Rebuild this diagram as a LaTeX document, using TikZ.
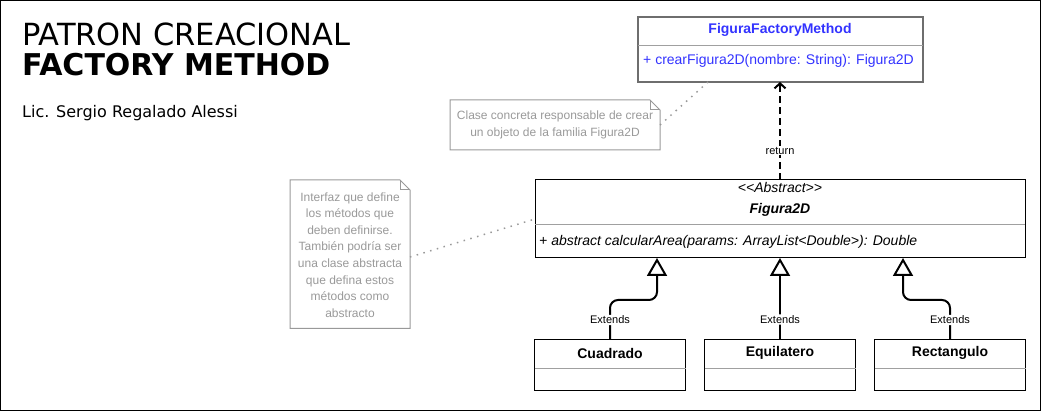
\documentclass[tikz,border=0pt]{standalone}
\usepackage{fontspec}
\setmainfont{Liberation Sans}
\newfontfamily\titlefont{DejaVu Sans}
\usetikzlibrary{arrows.meta}

\definecolor{ffmblue}{RGB}{51,51,255}
\definecolor{notegray}{RGB}{153,153,153}
\definecolor{boxgray}{RGB}{110,110,110}
\definecolor{divgray}{RGB}{160,160,160}

\tikzset{
  classbox/.style={draw=black,line width=1pt,fill=white,inner sep=0pt,outer sep=0pt},
  divider/.style={divgray,line width=1pt},
  classname/.style={inner sep=0pt,font=\fontsize{14}{16}\selectfont\bfseries},
  member/.style={anchor=west,inner sep=0pt,font=\fontsize{14}{16}\selectfont},
  notebox/.style={inner sep=0pt,outer sep=0pt,text=notegray,align=center,font=\fontsize{12}{16.6}\selectfont},
  noteedge/.style={notegray,line width=1pt},
  noteline/.style={notegray,line width=1.5pt,dash pattern=on 1.5pt off 5.5pt},
  extends/.style={line width=2pt,rounded corners=8pt,-{Triangle[open,length=18pt,width=20pt]}},
  ret/.style={line width=2pt,dash pattern=on 7pt off 4pt,-{Straight Barb[length=5pt,width=11pt]}},
  lbl/.style={fill=white,inner sep=1pt,font=\fontsize{11}{13}\selectfont},
  titletext/.style={anchor=base west,inner sep=0pt}
}

\begin{document}
\begin{tikzpicture}[x=1pt,y=-1pt]
\useasboundingbox (0,0) rectangle (1041,411);
\draw[line width=1pt] (0.5,0.5) rectangle (1040.5,410.5);

\node[titletext,font=\titlefont\fontsize{30.5}{36}\selectfont] (title) at (22,46) {PATRON CREACIONAL};
\node[titletext,font=\titlefont\fontsize{30}{36}\selectfont\bfseries] (subtitle) at (22,76) {FACTORY METHOD};
\node[titletext,font=\titlefont\fontsize{16}{19}\selectfont] (author) at (22,118) {Lic. Sergio Regalado Alessi};

\node[notebox,minimum width=210pt,minimum height=50pt] (noteA) at (555,125) {Clase concreta responsable de crear\\un objeto de la familia Figura2D};
\draw[noteedge] (noteA.north west) -- ([xshift=-10pt]noteA.north east) -- ([yshift=-10pt]noteA.north east) -- (noteA.south east) -- (noteA.south west) -- cycle;
\draw[noteedge] ([xshift=-10pt]noteA.north east) -- ([xshift=-10pt,yshift=-10pt]noteA.north east) -- ([yshift=-10pt]noteA.north east);

\node[notebox,minimum width=120pt,minimum height=147pt] (noteB) at (350,255) {Interfaz que define\\los métodos que\\deben definirse.\\También podría ser\\una clase abstracta\\que defina estos\\métodos como\\abstracto};
\draw[noteedge] ([yshift=1.5pt]noteB.north west) -- ([xshift=-10pt,yshift=1.5pt]noteB.north east) -- ([yshift=-8.5pt]noteB.north east) -- (noteB.south east) -- (noteB.south west) -- cycle;
\draw[noteedge] ([xshift=-10pt,yshift=1.5pt]noteB.north east) -- ([xshift=-10pt,yshift=-8.5pt]noteB.north east) -- ([yshift=-8.5pt]noteB.north east);

\node[classbox,draw=boxgray,line width=2pt,minimum width=285pt,minimum height=65pt] (ffm) at (780,49.5) {};
\draw[divider] ([yshift=3.5pt]ffm.west) -- ([yshift=3.5pt]ffm.east);
\node[classname,text=ffmblue] (ffmname) at (780,30) {FiguraFactoryMethod};
\node[member,text=ffmblue] (ffmop) at (643,61) {+ crearFigura2D(nombre: String): Figura2D};

\node[classbox,minimum width=490pt,minimum height=78pt] (fig) at (780,219) {};
\draw[divider] ([yshift=-6pt]fig.west) -- ([yshift=-6pt]fig.east);
\node[classname,font=\fontsize{14}{16}\selectfont\itshape] (figstereo) at (780,187) {<{}<Abstract>{}>};
\node[classname,font=\fontsize{14}{16}\selectfont\bfseries\itshape] (figname) at (780,210) {Figura2D};
\node[member,font=\fontsize{14}{16}\selectfont\itshape] (figop) at (539,242) {+ abstract calcularArea(params: ArrayList<Double>): Double};

\node[classbox,minimum width=151pt,minimum height=50pt] (cuad) at (610,365) {};
\draw[divider] ([yshift=-3pt]cuad.west) -- ([yshift=-3pt]cuad.east);
\node[classname] (cuadname) at (610,353) {Cuadrado};

\node[classbox,minimum width=151pt,minimum height=50pt] (equi) at (780,365) {};
\draw[divider] ([yshift=-3pt]equi.west) -- ([yshift=-3pt]equi.east);
\node[classname] (equiname) at (780,353) {Equilatero};

\node[classbox,minimum width=151pt,minimum height=50pt] (rect) at (950,365) {};
\draw[divider] ([yshift=-3pt]rect.west) -- ([yshift=-3pt]rect.east);
\node[classname] (rectname) at (950,353) {Rectangulo};

\draw[noteline] (noteA.east) -- ([xshift=-72pt]ffm.south);
\draw[noteline] ([yshift=-2pt]noteB.east) -- (fig.west);

\draw[ret] (fig.north) -- node[lbl,pos=0.3] {return} (ffm.south);

\draw[extends] (cuad.north) |- node[lbl,pos=0.25] {Extends} ([xshift=-123pt,yshift=-42pt]fig.south) -- ([xshift=-123pt]fig.south);
\draw[extends] (equi.north) -- node[lbl,pos=0.25] {Extends} (fig.south);
\draw[extends] (rect.north) |- node[lbl,pos=0.25] {Extends} ([xshift=123pt,yshift=-42pt]fig.south) -- ([xshift=123pt]fig.south);
\end{tikzpicture}
\end{document}
